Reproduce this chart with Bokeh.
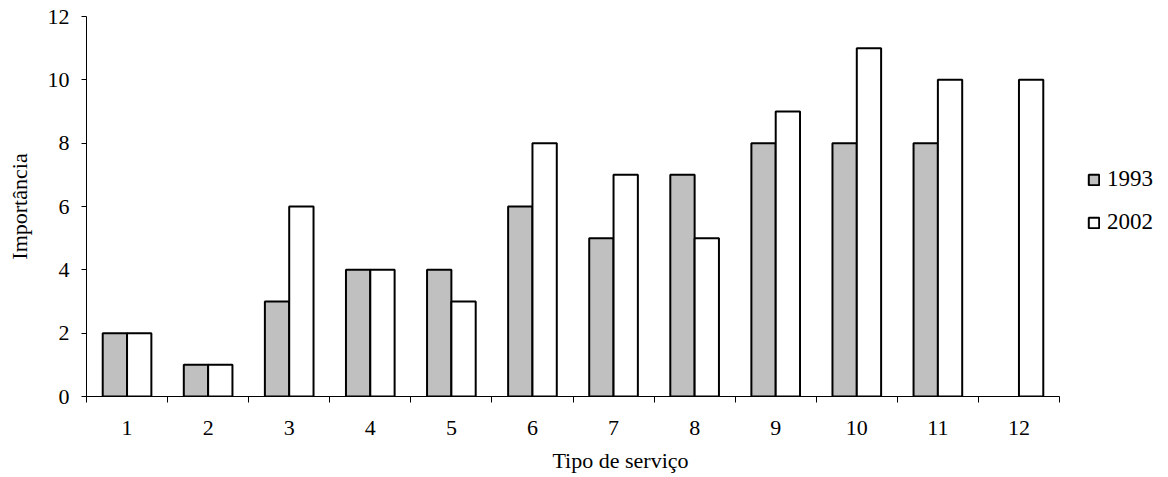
from bokeh.plotting import figure
from bokeh.models import ColumnDataSource, Range1d, FixedTicker, Legend, LegendItem
from bokeh.transform import dodge
from bokeh.embed import file_html
from bokeh.resources import INLINE

categories = [1, 2, 3, 4, 5, 6, 7, 8, 9, 10, 11, 12]
values_1993 = [2, 1, 3, 4, 4, 6, 5, 7, 8, 8, 8, float("nan")]
values_2002 = [2, 1, 6, 4, 3, 8, 7, 5, 9, 11, 10, 10]
y_ticks = [0, 2, 4, 6, 8, 10, 12]

src = ColumnDataSource(dict(x=categories, y1993=values_1993, y2002=values_2002))

FONT = "Liberation Serif"

# layout: category axis occupies 973 px, the frame continues to the right to hold the legend
AXIS_PX = 973
FRAME_W = 1068
x_start, x_end_axis = 0.5, 12.5
x_end = x_start + FRAME_W * (x_end_axis - x_start) / AXIS_PX

p = figure(frame_width=FRAME_W, frame_height=380, output_backend="svg", toolbar_location=None,
           x_range=Range1d(x_start, x_end), y_range=Range1d(0, 12),
           title=" ")
p.title.text_font_size = "8px"
p.title.standoff = 5
p.title.offset = 0
p.margin = (0, 0, 0, 3)
p.outline_line_color = None
p.grid.visible = False
p.background_fill_color = "white"

bw = 0.3
r1 = p.vbar(x=dodge("x", -bw / 2, range=p.x_range), top="y1993", width=bw, source=src,
            fill_color="#C0C0C0", line_color="black", line_width=2)
r2 = p.vbar(x=dodge("x", bw / 2, range=p.x_range), top="y2002", width=bw, source=src,
            fill_color="white", line_color="black", line_width=2)

xa = p.xaxis[0]
xa.bounds = (x_start, x_end_axis)
xa.ticker = FixedTicker(ticks=categories, minor_ticks=[c - 0.5 for c in categories] + [12.5])
xa.major_tick_line_color = None
xa.major_tick_out = 0
xa.major_tick_in = 0
xa.minor_tick_out = 6
xa.minor_tick_in = 0
xa.minor_tick_line_color = "black"
xa.axis_line_color = "black"
xa.major_label_standoff = 18
xa.major_label_text_font = FONT
xa.major_label_text_font_size = "22px"
xa.major_label_text_color = "black"
xa.axis_label = "Tipo de serviço"
xa.axis_label_text_font = FONT
xa.axis_label_text_font_size = "22px"
xa.axis_label_text_font_style = "normal"
xa.axis_label_text_color = "black"
xa.axis_label_standoff = 10

ya = p.yaxis[0]
ya.ticker = FixedTicker(ticks=y_ticks)
ya.minor_tick_line_color = None
ya.major_tick_out = 5
ya.major_tick_in = 0
ya.major_tick_line_color = "black"
ya.axis_line_color = "black"
ya.major_label_standoff = 12
ya.major_label_text_font = FONT
ya.major_label_text_font_size = "22px"
ya.major_label_text_color = "black"
ya.axis_label = "Importância"
ya.axis_label_text_font = FONT
ya.axis_label_text_font_size = "22px"
ya.axis_label_text_font_style = "normal"
ya.axis_label_text_color = "black"
ya.axis_label_standoff = 13

legend = Legend(items=[LegendItem(label="1993", renderers=[r1]),
                       LegendItem(label="2002", renderers=[r2])],
                location=(1001, 161), border_line_color=None, background_fill_alpha=0,
                label_text_font=FONT, label_text_font_size="23px", label_text_color="black",
                glyph_width=13, glyph_height=13, label_height=20, spacing=17,
                label_standoff=7, margin=0, padding=0)
p.add_layout(legend)

open("out.html", "w").write(file_html(p, INLINE))
